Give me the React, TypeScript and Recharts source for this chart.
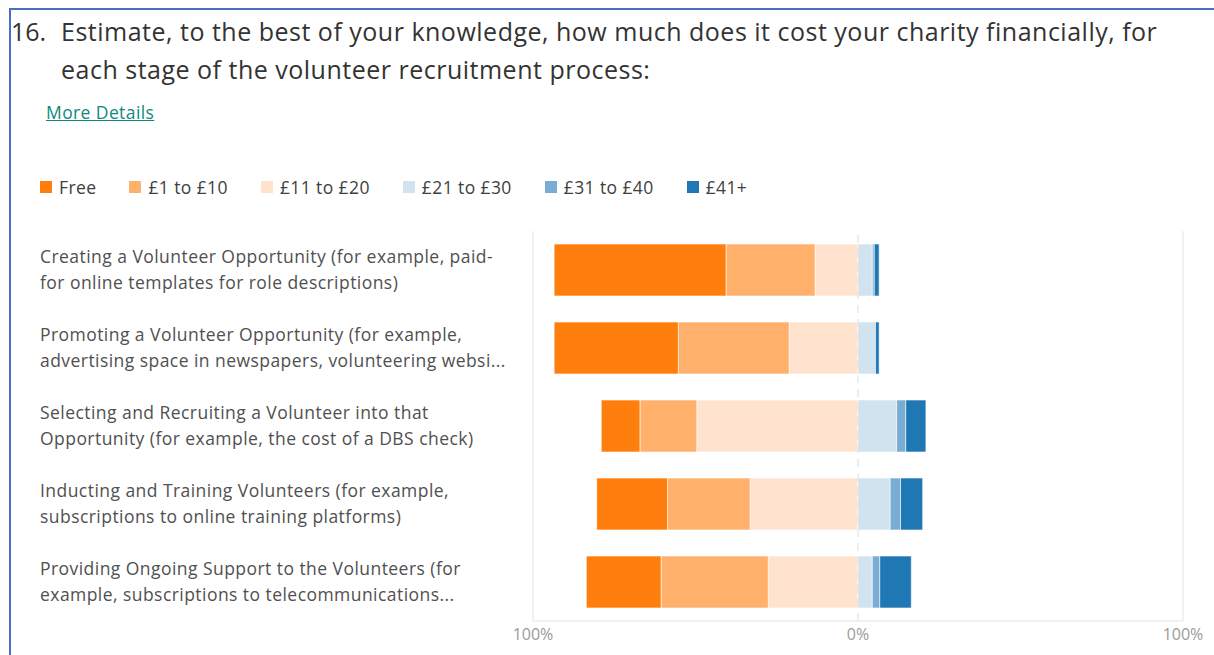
import React from 'react'
import { BarChart, Bar, XAxis, YAxis, ReferenceLine } from 'recharts'

const stages = [
  ['Creating a Volunteer Opportunity (for example, paid-', 'for online templates for role descriptions)'],
  ['Promoting a Volunteer Opportunity (for example,', 'advertising space in newspapers, volunteering websi...'],
  ['Selecting and Recruiting a Volunteer into that', 'Opportunity (for example, the cost of a DBS check)'],
  ['Inducting and Training Volunteers (for example,', 'subscriptions to online training platforms)'],
  ['Providing Ongoing Support to the Volunteers (for', 'example, subscriptions to telecommunications...'],
]

// percentages of respondents per stage
const free = [52.9, 38.2, 11.9, 21.8, 23.0]
const gbp1to10 = [27.4, 34.1, 17.5, 25.4, 33.0]
const gbp11to20 = [13.2, 21.2, 49.6, 33.2, 27.6]
const gbp21to30 = [4.4, 5.4, 11.9, 9.9, 4.4]
const gbp31to40 = [0.6, 0, 2.8, 3.2, 2.3]
const gbp41plus = [1.5, 1.1, 6.2, 6.8, 9.7]

const xTicks = [-100, 0, 100]

const series = [
  { key: 'free', name: 'Free', color: '#ff7f0e' },
  { key: 'gbp1to10', name: '£1 to £10', color: '#ffb16c' },
  { key: 'gbp11to20', name: '£11 to £20', color: '#ffe3cf' },
  { key: 'gbp21to30', name: '£21 to £30', color: '#d2e3f0' },
  { key: 'gbp31to40', name: '£31 to £40', color: '#7aadd3' },
  { key: 'gbp41plus', name: '£41+', color: '#1f77b4' },
]

const data = stages.map((lines, i) => ({
  stage: lines.join(' '),
  lines,
  free: -free[i],
  gbp1to10: -gbp1to10[i],
  gbp11to20: -gbp11to20[i],
  gbp21to30: gbp21to30[i],
  gbp31to40: gbp31to40[i],
  gbp41plus: gbp41plus[i],
}))

// negatives stack outward from zero, so the nearest-to-zero band goes first
const stackOrder = ['gbp11to20', 'gbp1to10', 'free', 'gbp21to30', 'gbp31to40', 'gbp41plus']

const font = '"Open Sans", "Noto Sans", sans-serif'

function StageTick(props: any) {
  const { y, payload } = props
  const row = data.find(d => d.stage === payload.value)
  const lines = row ? row.lines : [payload.value]
  return (
    <text x={40} y={y} fill="#505050" fontSize={17.5} letterSpacing={0.45} fontFamily={font} textAnchor="start">
      <tspan x={40} dy={-7}>{lines[0]}</tspan>
      <tspan x={40} dy={26}>{lines[1]}</tspan>
    </text>
  )
}

export default function App() {
  return (
    <div style={{ position: 'absolute', left: 0, top: 0, width: 1214, height: 655, background: '#fff', overflow: 'hidden', fontFamily: font }}>
      <div style={{ position: 'absolute', left: 9, top: 8, width: 1205, height: 2, background: '#4a6cc4' }} />
      <div style={{ position: 'absolute', left: 9, top: 8, width: 2, height: 647, background: '#4a6cc4' }} />

      <div style={{ position: 'absolute', left: 11, top: 12, fontSize: 25, color: '#333', lineHeight: '38px' }}>16.</div>
      <div style={{ position: 'absolute', left: 61, top: 12, width: 1150, fontSize: 25, letterSpacing: 0.5, color: '#333', lineHeight: '38px' }}>
        Estimate, to the best of your knowledge, how much does it cost your charity financially, for
        <br />
        each stage of the volunteer recruitment process:
      </div>

      <div style={{ position: 'absolute', left: 46, top: 100, fontSize: 17.5, letterSpacing: 0.4, color: '#108a7c', textDecoration: 'underline' }}>More Details</div>

      <div style={{ position: 'absolute', left: 40, top: 175, display: 'flex', alignItems: 'center', fontSize: 17.5, letterSpacing: 0.4, color: '#404040' }}>
        {series.map(s => (
          <div key={s.key} style={{ display: 'flex', alignItems: 'center', marginRight: 33 }}>
            <div style={{ width: 12, height: 12, background: s.color, marginRight: 7 }} />
            <span>{s.name}</span>
          </div>
        ))}
      </div>

      <div style={{ position: 'absolute', left: 0, top: 0 }}>
        <BarChart
          width={1214}
          height={655}
          data={data}
          layout="vertical"
          stackOffset="sign"
          margin={{ top: 231, right: 31, bottom: 0, left: 40 }}
        >
          <XAxis
            type="number"
            domain={[-100, 100]}
            ticks={xTicks}
            tickFormatter={(v: number) => `${Math.abs(v)}%`}
            tick={{ fontSize: 16, fill: '#9a9a9a', fontFamily: font }}
            axisLine={{ stroke: '#e3e3e3' }}
            tickLine={false}
            height={34}
          />
          <YAxis
            type="category"
            dataKey="stage"
            width={493}
            axisLine={false}
            tickLine={false}
            tick={<StageTick />}
            interval={0}
          />
          <ReferenceLine x={-100} stroke="#e3e3e3" />
          <ReferenceLine x={100} stroke="#e3e3e3" />
          {stackOrder.map(k => {
            const s = series.find(x => x.key === k)!
            return (
              <Bar
                key={k}
                dataKey={k}
                name={s.name}
                stackId="cost"
                fill={s.color}
                stroke="#ffffff"
                strokeWidth={0.6}
                barSize={52}
                isAnimationActive={false}
              />
            )
          })}
          <ReferenceLine x={0} stroke="#dddddd" strokeDasharray="8 6" />
        </BarChart>
      </div>
    </div>
  )
}
